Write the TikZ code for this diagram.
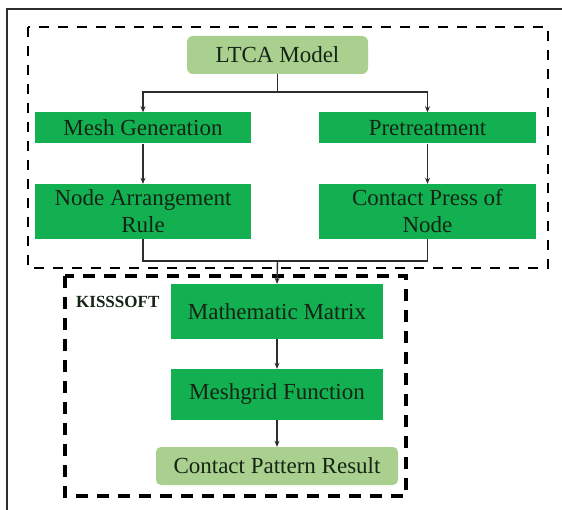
\documentclass[tikz,border=0pt]{standalone}
\usepackage{fontspec}
\setmainfont{Liberation Serif}
\usetikzlibrary{arrows.meta,calc}
\definecolor{boxgreen}{RGB}{18,176,80}
\definecolor{palegreen}{RGB}{169,208,142}
\definecolor{inkdark}{RGB}{22,36,22}
\definecolor{linegray}{RGB}{45,45,45}
\tikzset{
  stepbox/.style={fill=boxgreen, draw=none, inner sep=0pt, align=center,
    text=inkdark, font=\fontsize{23}{27}\selectfont},
  endbox/.style={fill=palegreen, draw=none, rounded corners=6pt, inner sep=0pt,
    align=center, text=inkdark, font=\fontsize{23}{27}\selectfont},
  link/.style={draw=linegray, line width=1.4pt},
  arrowlink/.style={link, -{Stealth[length=6pt,width=5pt]}},
  groupframe/.style={draw=black, line width=2.6pt, dash pattern=on 10pt off 9pt},
  innerframe/.style={draw=black, line width=3.2pt, dash pattern=on 12pt off 9pt},
}
\begin{document}
\begin{tikzpicture}[x=1pt,y=-1pt]
\useasboundingbox (0,0) rectangle (562,510);
\fill[white] (0,0) rectangle (562,510);

% page frame, running past the right and bottom edges
\draw[draw=linegray, line width=1.3pt] (7,520) -- (7,9) -- (575,9);

% dashed group outlines
\draw[groupframe] (28,27) rectangle (548,268);
\draw[innerframe] (65,276) rectangle (406,496);

% upper stage
\node[endbox, minimum width=181pt, minimum height=38pt] (ltca) at (277.5,55) {LTCA Model};
\node[stepbox, minimum width=216pt, minimum height=31pt] (mesh) at (143,128) {Mesh Generation};
\node[stepbox, minimum width=217pt, minimum height=31pt] (pre) at (427.5,128) {Pretreatment};
\node[stepbox, minimum width=216pt, minimum height=55pt] (rule) at (143,211.5) {Node Arrangement\\Rule};
\node[stepbox, minimum width=217pt, minimum height=55pt] (press) at (427.5,211.5) {Contact Press of\\Node};

% lower stage
\node[font=\bfseries\fontsize{17}{20}\selectfont, text=inkdark, anchor=west, inner sep=0pt] (kiss) at (76,302) {KISSSOFT};
\node[stepbox, minimum width=212pt, minimum height=55pt] (matrix) at (277,311.5) {Mathematic Matrix};
\node[stepbox, minimum width=212pt, minimum height=51pt] (grid) at (277,394.5) {Meshgrid Function};
\node[endbox, minimum width=242pt, minimum height=38pt, rounded corners=5pt] (result) at (277,466) {Contact Pattern Result};

% junction points of the connectors
\coordinate (split) at ($(ltca.south)+(0,18)$);
\coordinate (merge) at (277.5,261);

\draw[link] (ltca.south) -- (split);
\draw[arrowlink] (split) -| (mesh.north);
\draw[arrowlink] (split) -| (pre.north);
\draw[arrowlink] (mesh.south) -- (rule.north);
\draw[arrowlink] (pre.south) -- (press.north);
\draw[link] (rule.south) |- (merge);
\draw[link] (press.south) |- (merge);
\draw[arrowlink] (merge) -- (matrix.north);
\draw[arrowlink] (matrix.south) -- (grid.north);
\draw[arrowlink] (grid.south) -- (result.north);
\end{tikzpicture}
\end{document}
